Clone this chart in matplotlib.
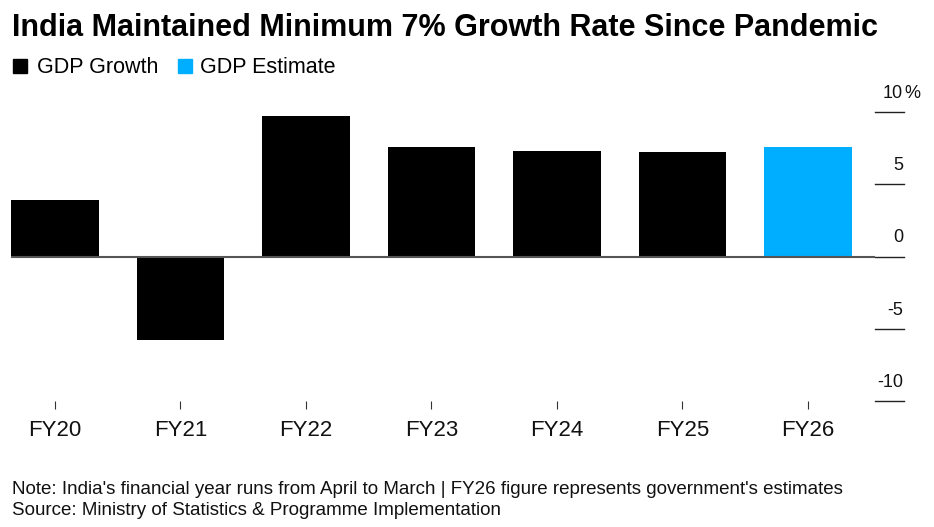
import matplotlib.pyplot as plt
import numpy as np

plt.rcParams['font.family'] = ['Liberation Sans', 'DejaVu Sans']

years = ['FY20', 'FY21', 'FY22', 'FY23', 'FY24', 'FY25', 'FY26']
growth = [3.9, -5.8, 9.7, 7.6, 7.3, 7.2, 7.6]
is_estimate = [False, False, False, False, False, False, True]
yticks = [10, 5, 0, -5, -10]

black = '#000000'
blue = '#00AEFF'

W, H = 934, 527
fig = plt.figure(figsize=(W / 100, H / 100), dpi=100)
ax = fig.add_axes([11 / W, 1 - 401 / H, 864 / W, 289 / H])

x = np.arange(len(years))
colors = [blue if e else black for e in is_estimate]
ax.bar(x, growth, width=0.70, color=colors, zorder=2)

ax.set_xlim(-0.3506, 6.534)
ax.set_ylim(-10, 10)

# zero line
ax.axhline(0, color='#555555', lw=1.5, zorder=3)

# y ticks drawn on the right, labels sit above the tick lines
tr = ax.get_yaxis_transform()
for v in yticks:
    ax.plot([1.0, 1.0336], [v, v], transform=tr, color='#222222', lw=1.0, clip_on=False)
    ax.annotate(str(v), xy=(1.0325, v), xycoords=tr, xytext=(0, 14), textcoords='offset pixels',
                ha='right', va='baseline', fontsize=13, color='#111111')
ax.annotate('%', xy=(1.0325, 10), xycoords=tr, xytext=(1, 14), textcoords='offset pixels',
            ha='left', va='baseline', fontsize=13, color='#111111')

ax.set_xticks(x)
ax.set_xticklabels(years, fontsize=16, color='#111111')
ax.tick_params(axis='x', length=6, width=0.8, color='#333333', pad=8)
ax.set_yticks([])
for s in ax.spines.values():
    s.set_visible(False)

# title
fig.text(12 / W, 1 - 36 / H, 'India Maintained Minimum 7% Growth Rate Since Pandemic',
         fontsize=22, fontweight='bold', ha='left', va='baseline')

# legend
fig.patches.append(plt.Rectangle((13 / W, 1 - 73 / H), 14 / W, 14 / H, color=black,
                                 transform=fig.transFigure))
fig.text(37 / W, 1 - 73 / H, 'GDP Growth', fontsize=15.5, ha='left', va='baseline')
fig.patches.append(plt.Rectangle((178 / W, 1 - 73 / H), 14 / W, 14 / H, color=blue,
                                 transform=fig.transFigure))
fig.text(200 / W, 1 - 73 / H, 'GDP Estimate', fontsize=15.5, ha='left', va='baseline')

# notes
fig.text(12 / W, 1 - 494 / H,
         "Note: India's financial year runs from April to March | FY26 figure represents government's estimates",
         fontsize=13.5, ha='left', va='baseline', color='#111111')
fig.text(12 / W, 1 - 515 / H, 'Source: Ministry of Statistics & Programme Implementation',
         fontsize=13.5, ha='left', va='baseline', color='#111111')

fig.savefig('out.png', dpi=100)
